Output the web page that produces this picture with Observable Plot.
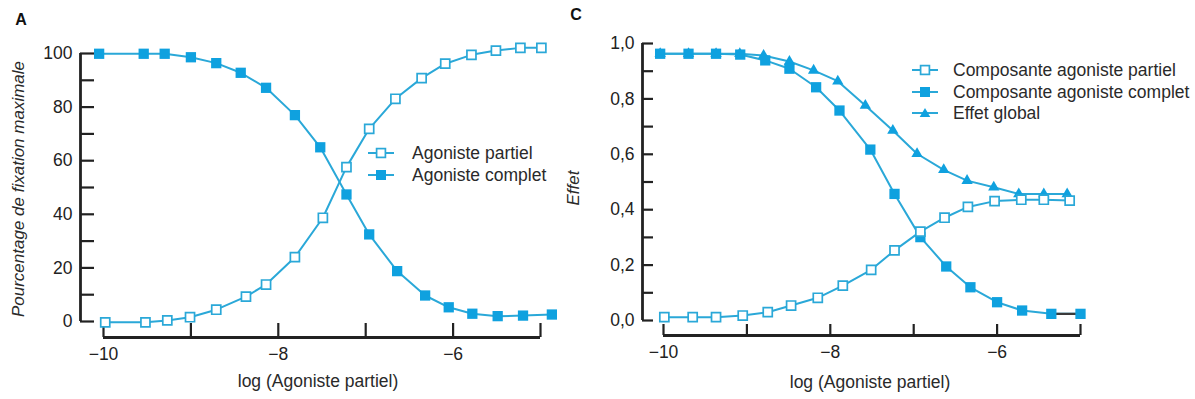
<!DOCTYPE html>
<html><head><meta charset="utf-8">
<script src="https://cdn.jsdelivr.net/npm/d3@7"></script>
<script src="https://cdn.jsdelivr.net/npm/@observablehq/plot@0.6"></script>
<style>
body{margin:0;background:#fff;}
#wrap{position:relative;width:1195px;height:399px;font-family:"Liberation Sans",Arial,sans-serif;color:#2a2a2a;overflow:hidden;background:#fff}
.abs{position:absolute;white-space:nowrap;line-height:1}
.ctr{transform:translate(-50%,-50%)}
.rot{transform:translate(-50%,-50%) rotate(-90deg);font-style:italic}
.leg{position:absolute;font-size:17.5px;line-height:20px;height:20px;white-space:nowrap}
svg.plot{position:absolute;top:0}
</style></head><body><div id="wrap"></div>
<script>
// ---------- Panel A data ----------
const xA_partial = [-9.98, -9.52, -9.27, -9.01, -8.71, -8.37, -8.14, -7.81, -7.49, -7.22, -6.96, -6.66, -6.36, -6.09, -5.79, -5.51, -5.23, -4.99];
const yA_partial = [-0.3, -0.3, 0.4, 1.6, 4.4, 9.3, 13.8, 24.0, 38.7, 57.6, 71.9, 83.1, 90.8, 96.2, 99.5, 101.1, 102.1, 102.1];
const xA_full = [-10.05, -9.54, -9.30, -9.00, -8.71, -8.43, -8.14, -7.81, -7.52, -7.22, -6.96, -6.64, -6.32, -6.05, -5.78, -5.49, -5.20, -4.87];
const yA_full = [99.9, 99.9, 99.9, 98.6, 96.4, 92.8, 87.2, 77.0, 65.0, 47.4, 32.5, 18.8, 9.7, 5.3, 2.9, 2.0, 2.2, 2.6];

// ---------- Panel C data ----------
const xC_partial = [-9.99, -9.65, -9.37, -9.05, -8.75, -8.47, -8.15, -7.85, -7.51, -7.23, -6.92, -6.63, -6.35, -6.03, -5.71, -5.44, -5.13];
const yC_partial = [0.012, 0.012, 0.012, 0.018, 0.030, 0.054, 0.082, 0.126, 0.183, 0.253, 0.321, 0.371, 0.410, 0.431, 0.436, 0.436, 0.433];
const xC_full = [-10.04, -9.70, -9.37, -9.08, -8.78, -8.49, -8.17, -7.89, -7.52, -7.23, -6.92, -6.61, -6.32, -6.00, -5.70, -5.35, -5.00];
const yC_full = [0.963, 0.963, 0.963, 0.960, 0.939, 0.909, 0.842, 0.758, 0.617, 0.457, 0.301, 0.195, 0.120, 0.066, 0.036, 0.024, 0.024];
const xC_global = [-10.04, -9.70, -9.37, -9.085, -8.80, -8.49, -8.20, -7.91, -7.58, -7.25, -6.96, -6.64, -6.36, -6.04, -5.74, -5.44, -5.16];
const yC_global = [0.963, 0.963, 0.963, 0.963, 0.957, 0.935, 0.903, 0.864, 0.776, 0.686, 0.602, 0.544, 0.505, 0.481, 0.457, 0.457, 0.457];

// ---------- Ticks & labels ----------
const xTicks = [-10, -9, -8, -7, -6, -5];
const xLabelTicks = [-10, -8, -6];
const yTicksA = [0, 10, 20, 30, 40, 50, 60, 70, 80, 90, 100];
const yLabelTicksA = [0, 20, 40, 60, 80, 100];
const yTicksC = [0, 0.1, 0.2, 0.3, 0.4, 0.5, 0.6, 0.7, 0.8, 0.9, 1.0];
const yLabelTicksC = [0, 0.2, 0.4, 0.6, 0.8, 1.0];
const xTitle = "log (Agoniste partiel)";
const yTitleA = "Pourcentage de fixation maximale";
const yTitleC = "Effet";
const legendA = ["Agoniste partiel", "Agoniste complet"];
const legendC = ["Composante agoniste partiel", "Composante agoniste complet", "Effet global"];

const BLUE = "#0fa1df", LINE = "#2aa8d8", AX = "#222";
const zip = (xs, ys) => xs.map((x, i) => ({x, y: ys[i]}));

function panel(o) {
  const first = a => a[0], last = a => a[a.length - 1];
  return Plot.plot({
    width: o.width, height: 399,
    marginLeft: o.ml, marginRight: o.mr, marginTop: o.mt, marginBottom: o.mb,
    insetLeft: o.il, insetBottom: o.ib,
    x: {domain: [first(xTicks), last(xTicks)], label: null},
    y: {domain: [first(o.yTicks), last(o.yTicks)], label: null},
    style: {fontSize: "17.5px", fontFamily: "'Liberation Sans', Arial, sans-serif", color: AX, background: "transparent", overflow: "visible"},
    marks: [
      Plot.ruleX([first(xTicks)], {y1: first(o.yTicks), y2: last(o.yTicks), dx: -o.il, stroke: AX, strokeWidth: 2.8}),
      Plot.ruleY([first(o.yTicks)], {x1: first(xTicks), x2: last(xTicks), dy: o.ib, stroke: AX, strokeWidth: 2.8}),
      Plot.axisY(o.yTicks, {tickSize: o.tick, dx: o.tick, tickFormat: () => "", strokeWidth: 2.2}),
      Plot.axisY(o.yLabels, {tickSize: 0, tickPadding: 8, tickFormat: o.yFormat}),
      Plot.axisX(xTicks, {tickSize: o.tick, dy: -o.tick, tickFormat: () => "", strokeWidth: 2.2}),
      Plot.axisX(xLabelTicks, {tickSize: 0, tickPadding: 10}),
      ...o.series
    ]
  });
}

const lineOpts = {x: "x", y: "y", stroke: LINE, strokeWidth: 2};
const filledSq = {x: "x", y: "y", symbol: "square", r: 5.8, fill: BLUE};
const openSq = {x: "x", y: "y", symbol: "square", r: 5.1, fill: "white", stroke: LINE, strokeWidth: 1.7};
const tri = {x: "x", y: "y", symbol: "triangle", r: 4.2, fill: BLUE};

const dA_p = zip(xA_partial, yA_partial), dA_f = zip(xA_full, yA_full);
const dC_p = zip(xC_partial, yC_partial), dC_f = zip(xC_full, yC_full), dC_g = zip(xC_global, yC_global);

const svgA = panel({
  width: 575, ml: 80, mr: 35, mt: 53, mb: 62, il: 23, ib: 16, tick: 14,
  yTicks: yTicksA, yLabels: yLabelTicksA, yFormat: d => String(d),
  series: [
    Plot.line(dA_f, lineOpts),
    Plot.line(dA_p, lineOpts),
    Plot.dot(dA_f, filledSq),
    Plot.dot(dA_p, openSq)
  ]
});
const svgC = panel({
  width: 620, ml: 67, mr: 115, mt: 43, mb: 64, il: 21, ib: 15, tick: 11,
  yTicks: yTicksC, yLabels: yLabelTicksC, yFormat: d => d.toFixed(1).replace(".", ","),
  series: [
    Plot.line(dC_g, lineOpts),
    Plot.line(dC_f, lineOpts),
    Plot.line(dC_f.slice(-2), {x: "x", y: "y", stroke: "#3a3a3a", strokeWidth: 2.2}),
    Plot.line(dC_p, lineOpts),
    Plot.dot(dC_g, tri),
    Plot.dot(dC_f, filledSq),
    Plot.dot(dC_p, openSq)
  ]
});
svgA.classList.add("plot"); svgC.classList.add("plot");
svgA.style.left = "0px"; svgC.style.left = "575px";
const wrap = document.getElementById("wrap");
wrap.append(svgA, svgC);

function addText(txt, cls, left, top, extra) {
  const d = document.createElement("div");
  d.className = "abs " + cls;
  d.textContent = txt;
  d.style.left = left + "px"; d.style.top = top + "px";
  Object.assign(d.style, extra || {});
  wrap.append(d);
}
addText("A", "ctr", 21, 20, {fontWeight: "bold", fontSize: "16px", color: "#111"});
addText("C", "ctr", 576, 15, {fontWeight: "bold", fontSize: "16px", color: "#111"});
addText(xTitle, "ctr", 318, 382, {fontSize: "17.5px"});
addText(xTitle, "ctr", 870, 383, {fontSize: "17.5px"});
addText(yTitleA, "rot", 18, 189, {fontSize: "17px"});
addText(yTitleC, "rot", 573, 188, {fontSize: "17px"});

function symbolSvg(kind) {
  const ns = "http://www.w3.org/2000/svg";
  const s = document.createElementNS(ns, "svg");
  s.setAttribute("width", 28); s.setAttribute("height", 20);
  const l = document.createElementNS(ns, "line");
  l.setAttribute("x1", 0); l.setAttribute("x2", 26); l.setAttribute("y1", 10); l.setAttribute("y2", 10);
  l.setAttribute("stroke", LINE); l.setAttribute("stroke-width", 2);
  s.append(l);
  let m;
  if (kind === "tri") {
    m = document.createElementNS(ns, "path");
    m.setAttribute("d", "M13,5 L18.3,14 L7.7,14 Z");
    m.setAttribute("fill", BLUE);
  } else {
    m = document.createElementNS(ns, "rect");
    const sz = kind === "open" ? 8.8 : 10;
    m.setAttribute("x", 13 - sz / 2); m.setAttribute("y", 10 - sz / 2);
    m.setAttribute("width", sz); m.setAttribute("height", sz);
    if (kind === "open") { m.setAttribute("fill", "white"); m.setAttribute("stroke", LINE); m.setAttribute("stroke-width", 1.7); }
    else m.setAttribute("fill", BLUE);
  }
  s.append(m);
  return s;
}
function addLegend(items, kinds, symLeft, textLeft, rows) {
  items.forEach((t, i) => {
    const sv = symbolSvg(kinds[i]);
    sv.style.position = "absolute"; sv.style.left = symLeft + "px"; sv.style.top = (rows[i] - 10) + "px";
    wrap.append(sv);
    const d = document.createElement("div");
    d.className = "leg"; d.textContent = t;
    d.style.left = textLeft + "px"; d.style.top = (rows[i] - 10) + "px";
    wrap.append(d);
  });
}
addLegend(legendA, ["open", "filled"], 368, 412, [153, 175]);
addLegend(legendC, ["open", "filled", "tri"], 912, 953, [70, 92, 113]);
</script></body></html>
